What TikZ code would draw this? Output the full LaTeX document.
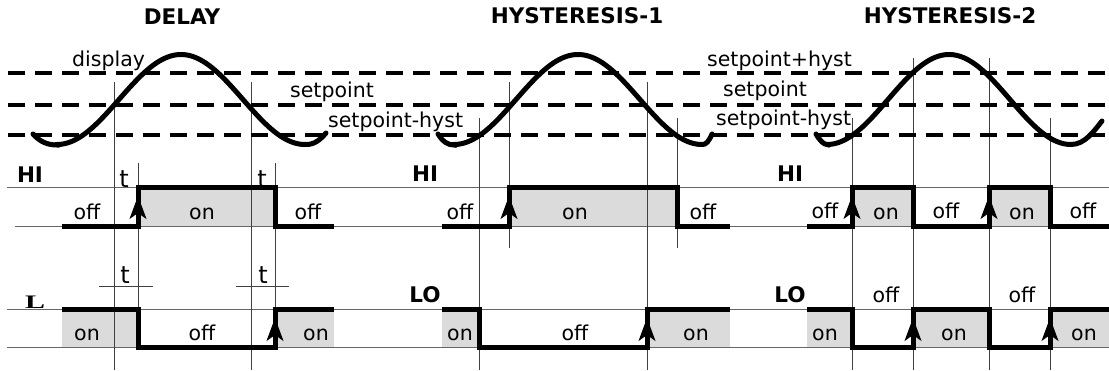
\documentclass[tikz,border=0pt]{standalone}
\usepackage{fontspec}
\setmainfont{DejaVu Sans}
\newfontfamily\serifL{Liberation Serif}
\usetikzlibrary{arrows.meta}
\begin{document}
\begin{tikzpicture}[x=1pt,y=-1pt,
  lbl/.style={font=\fontsize{20.5}{24}\selectfont, inner sep=0pt, anchor=base},
  lblw/.style={font=\fontsize{20.5}{24}\selectfont, inner sep=0pt, anchor=base west},
  ttl/.style={font=\fontsize{21.5}{26}\selectfont\bfseries, inner sep=0pt, anchor=base},
  tlbl/.style={font=\fontsize{24}{28}\selectfont, inner sep=0pt, anchor=base},
  lfont/.style={inner sep=0pt, anchor=base},
  sig/.style={line width=5pt, line join=miter},
  thinh/.style={line width=1pt, black!60},
  thinv/.style={line width=1pt, black!75},
  dsh/.style={line width=4.5pt, dash pattern=on 17pt off 10pt},
  crv/.style={line width=5pt, line cap=round},
  fillg/.style={fill=black!14},
  arr/.style={line width=1pt, -{Stealth[length=23pt,width=17pt,inset=6pt]}}
]
\useasboundingbox (0,0) rectangle (1109,370);

% grey "on" areas
\fill[fillg] (138,187) rectangle (275,226);
\fill[fillg] (62,309) rectangle (138,347);
\fill[fillg] (275,309) rectangle (334,347);
\fill[fillg] (509,187) rectangle (677,226);
\fill[fillg] (442,309) rectangle (479,347);
\fill[fillg] (647,309) rectangle (730,347);
\fill[fillg] (852,187) rectangle (913,226);
\fill[fillg] (989,187) rectangle (1050,226);
\fill[fillg] (807,309) rectangle (852,347);
\fill[fillg] (913,309) rectangle (989,347);
\fill[fillg] (1050,309) rectangle (1109,347);

% thin horizontal reference lines
\draw[thinh] (7,187) -- (1109,187);
\draw[thinh] (15,226) -- (1109,226);
\draw[thinh] (7,309) -- (1109,309);
\draw[thinh] (7,347) -- (1109,347);

% thin vertical lines
\draw[thinv] (114,82) -- (114,370);
\draw[thinv] (251,82) -- (251,370);
\draw[thinv] (138,163) -- (138,347);
\draw[thinv] (275,163) -- (275,347);
\draw[thinv] (99,286) -- (153,286);
\draw[thinv] (236,286) -- (289,286);
\draw[thinv] (479,118) -- (479,370);
\draw[thinv] (509,82) -- (509,248);
\draw[thinv] (647,82) -- (647,370);
\draw[thinv] (677,118) -- (677,248);
\draw[thinv] (852,118) -- (852,370);
\draw[thinv] (913,58) -- (913,370);
\draw[thinv] (989,58) -- (989,370);
\draw[thinv] (1050,118) -- (1050,370);

% dashed threshold lines
\draw[dsh] (8,73) -- (1109,73);
\draw[dsh] (8,105) -- (1109,105);
\draw[dsh] (8,135) -- (1109,135);

% display curves
\draw[crv] (33,134) .. controls (40,142) and (48,145) .. (57,145)
  -- plot[domain=57:305, samples=120] (\x, {99.5-45*cos(1.451613*(\x-181))})
  .. controls (314,145) and (320,140) .. (326,133);
\draw[crv] (438,134) .. controls (443,142) and (448,145) .. (454,145)
  -- plot[domain=454:702, samples=120] (\x, {99.5-45*cos(1.451613*(\x-578))})
  .. controls (706,145) and (709,141) .. (712,134);
\draw[crv] (816,134) .. controls (820,141) and (824,144.5) .. (827,144.5)
  -- plot[domain=827:1071, samples=120] (\x, {99.5-45*cos(1.475410*(\x-949))})
  .. controls (1085,144.5) and (1094,131) .. (1102,121);

% output signals
\draw[sig] (62,226) -- (138,226) -- (138,187) -- (275,187) -- (275,226) -- (334,226);
\draw[sig] (62,309) -- (138,309) -- (138,347) -- (275,347) -- (275,309) -- (334,309);
\draw[sig] (442,226) -- (509,226) -- (509,187) -- (677,187) -- (677,226) -- (730,226);
\draw[sig] (442,309) -- (479,309) -- (479,347) -- (647,347) -- (647,309) -- (730,309);
\draw[sig] (807,226) -- (852,226) -- (852,187) -- (913,187) -- (913,226) -- (989,226) -- (989,187) -- (1050,187) -- (1050,226) -- (1109,226);
\draw[sig] (807,309) -- (852,309) -- (852,347) -- (913,347) -- (913,309) -- (989,309) -- (989,347) -- (1050,347) -- (1050,309) -- (1109,309);

% arrows on switching edges
\foreach \ax in {138,509,852,989} \draw[arr] (\ax,224) -- (\ax,196);
\foreach \ax in {275,647,913,1050} \draw[arr] (\ax,345) -- (\ax,318);

% titles
\node[ttl] (tdelay) at (182,24) {DELAY};
\node[ttl] (thyst1) at (577,23) {HYSTERESIS-1};
\node[ttl] (thyst2) at (950,23) {HYSTERESIS-2};

% threshold labels
\node[lblw] (ldisplay) at (72,66) {display};
\node[lblw] (lsp1) at (290,97) {setpoint};
\node[lblw] (lsph1) at (328,127) {setpoint-hyst};
\node[lblw] (lspp2) at (707,66) {setpoint+hyst};
\node[lblw] (lsp2) at (723,96) {setpoint};
\node[lblw] (lsph2) at (716,125) {setpoint-hyst};

% channel labels
\node[ttl] (hi1) at (30,182) {HI};
\node[lfont] (lo1) at (35,308) {\resizebox{20pt}{12.5pt}{\serifL\bfseries L}};
\node[ttl] (hi2) at (425,181) {HI};
\node[ttl] (lo2) at (425,302) {LO};
\node[ttl] (hi3) at (790,181) {HI};
\node[ttl] (lo3) at (790,302) {LO};

% delay t labels
\node[tlbl] (t1) at (124,187) {t};
\node[tlbl] (t2) at (262,187) {t};
\node[tlbl] (t3) at (125,283) {t};
\node[tlbl] (t4) at (263,283) {t};

% state labels DELAY
\node[lbl] (d1) at (87,219) {off};
\node[lbl] (d2) at (202,219) {on};
\node[lbl] (d3) at (308,219) {off};
\node[lbl] (d4) at (87,340) {on};
\node[lbl] (d5) at (202,340) {off};
\node[lbl] (d6) at (316,340) {on};
% state labels HYSTERESIS-1
\node[lbl] (h1) at (460,219) {off};
\node[lbl] (h2) at (575,219) {on};
\node[lbl] (h3) at (703,219) {off};
\node[lbl] (h4) at (460,340) {on};
\node[lbl] (h5) at (575,340) {off};
\node[lbl] (h6) at (696,340) {on};
% state labels HYSTERESIS-2
\node[lbl] (k1) at (825,218) {off};
\node[lbl] (k2) at (886,219) {on};
\node[lbl] (k3) at (946,218) {off};
\node[lbl] (k4) at (1022,219) {on};
\node[lbl] (k5) at (1083,218) {off};
\node[lbl] (k6) at (886,302) {off};
\node[lbl] (k7) at (1022,302) {off};
\node[lbl] (k8) at (825,340) {on};
\node[lbl] (k9) at (954,340) {on};
\node[lbl] (k10) at (1084,340) {on};
\end{tikzpicture}
\end{document}
